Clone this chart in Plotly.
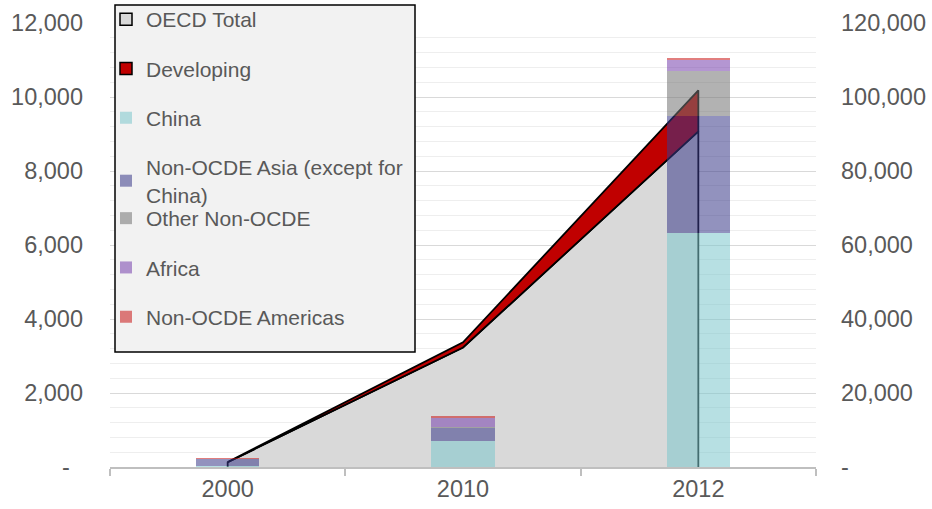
import plotly.graph_objects as go

# ---- data ----
years = ["2000", "2010", "2012"]
oecd_total = [1300, 32300, 90700]          # right axis
developing = [60, 1400, 11100]             # right axis, stacked on OECD
china = [20, 700, 6330]                    # left axis bars
asia_ex_china = [200, 350, 3150]
other_non_ocde = [0, 30, 1210]
africa = [5, 250, 306]
americas = [25, 45, 64]

left_tickvals = [0, 2000, 4000, 6000, 8000, 10000, 12000]
left_ticktext = ["-\u00a0\u00a0", "2,000", "4,000", "6,000", "8,000", "10,000", "12,000"]
right_tickvals = [0, 20000, 40000, 60000, 80000, 100000, 120000]
right_ticktext = ["-", "20,000", "40,000", "60,000", "80,000", "100,000", "120,000"]

FONT = "Liberation Sans, Arial, sans-serif"
TXT = "#595959"

fig = go.Figure()

# ---- areas (primary y = right axis) ----
dev_top = [o + d for o, d in zip(oecd_total, developing)]
fig.add_trace(go.Scatter(
    x=[years[0]] + years + [years[-1]],
    y=[0] + oecd_total + [0],
    fill="toself", fillcolor="#d9d9d9", mode="lines",
    line=dict(color="black", width=1.8),
    legendgroup="oecd", showlegend=False, yaxis="y", hoverinfo="skip"))
fig.add_trace(go.Scatter(
    x=years + years[::-1],
    y=dev_top + oecd_total[::-1],
    fill="toself", fillcolor="#c00000", mode="lines",
    line=dict(color="black", width=1.8),
    legendgroup="dev", showlegend=False, yaxis="y", hoverinfo="skip"))

# legend entries for areas
fig.add_trace(go.Bar(x=[None], y=[None], name="OECD Total", marker=dict(color="#d9d9d9", line=dict(color="black", width=1.5)),
                     legendgroup="oecd", legend="legend", yaxis="y2"))
fig.add_trace(go.Bar(x=[None], y=[None], name="Developing", marker=dict(color="#c00000", line=dict(color="black", width=1.5)),
                     legendgroup="dev", legend="legend", yaxis="y2"))

# ---- bars (left axis, overlaying) ----
bars = [
    ("China", china, "rgba(124,199,204,0.55)", "legend"),
    ("Non-OCDE Asia (except for<br>China)", asia_ex_china, "rgba(57,57,137,0.55)", "legend"),
    ("Other Non-OCDE", other_non_ocde, "rgba(115,115,115,0.55)", "legend2"),
    ("Africa", africa, "rgba(119,64,173,0.55)", "legend2"),
    ("Non-OCDE Americas", americas, "rgba(200,20,20,0.55)", "legend2"),
]
for i, (name, vals, col, lg) in enumerate(bars):
    fig.add_trace(go.Bar(x=years, y=vals, name=name, marker=dict(color=col, line=dict(width=0)),
                         legendgroup="b%d" % i, legend=lg, yaxis="y2"))

H_PLOT = 444.0
def py(px):
    return (467.0 - px) / H_PLOT

def px_x(px):
    return (px - 110.0) / 706.0

legend_common = dict(
    font=dict(family=FONT, size=21, color=TXT),
    bgcolor="rgba(0,0,0,0)", borderwidth=0,
    traceorder="grouped", tracegroupgap=19,
    xanchor="left", yanchor="top", itemclick=False, itemdoubleclick=False,
)

fig.update_layout(
    width=932, height=509,
    margin=dict(l=110, r=116, t=23, b=42, autoexpand=False),
    paper_bgcolor="white", plot_bgcolor="white",
    font=dict(family=FONT, size=23.5, color=TXT),
    barmode="stack", bargap=0.73,
    xaxis=dict(type="category", range=[-0.5, 2.5], showgrid=False,
               showline=True, linecolor="#bfbfbf", linewidth=1.5,
               ticks="outside", tickson="boundaries", ticklen=7, tickcolor="#bfbfbf", tickwidth=1.5,
               tickfont=dict(family=FONT, size=23.5, color=TXT)),
    yaxis=dict(range=[0, 120000], side="right", tickvals=right_tickvals, ticktext=right_ticktext,
               showgrid=True, gridcolor="#d9d9d9", gridwidth=1, zeroline=False, showline=False,
               ticks="", ticklabelstandoff=24,
               minor=dict(dtick=4000, tick0=0, showgrid=True, gridcolor="#eeeeee", gridwidth=1),
               tickfont=dict(family=FONT, size=23.5, color=TXT)),
    yaxis2=dict(range=[0, 12000], side="left", overlaying="y", anchor="x",
                tickvals=left_tickvals, ticktext=left_ticktext,
                showgrid=False, zeroline=False, showline=False, ticks="", ticklabelstandoff=26,
                tickfont=dict(family=FONT, size=23.5, color=TXT)),
    legend=dict(x=px_x(106), y=py(-1), **legend_common),
    legend2=dict(x=px_x(106), y=py(198), **legend_common),
    shapes=[dict(type="rect", xref="paper", yref="paper",
                 x0=px_x(115), x1=px_x(415), y0=py(352), y1=py(5),
                 fillcolor="#f2f2f2", line=dict(color="black", width=1.5), layer="above")],
    showlegend=True,
)

fig.write_html("out.html")
